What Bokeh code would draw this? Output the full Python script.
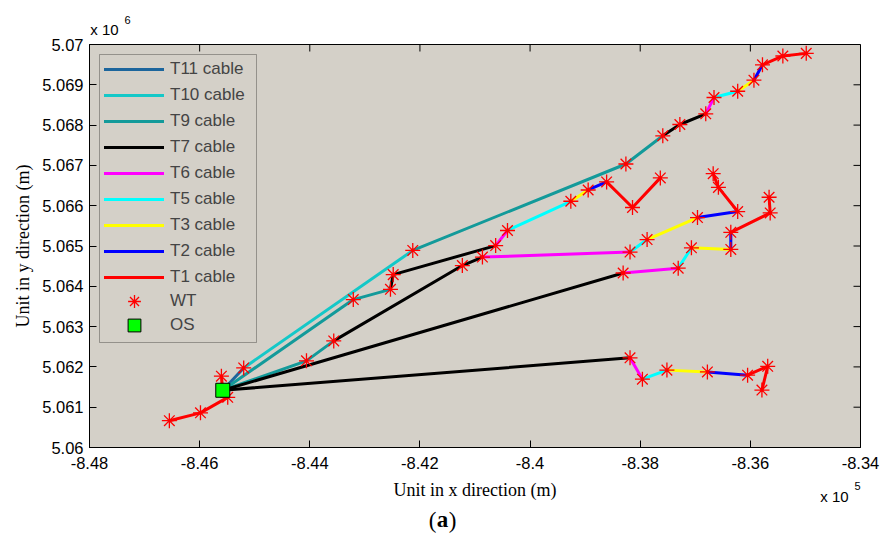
from bokeh.plotting import figure
from bokeh.models import Range1d, FixedTicker, LinearAxis, Legend, LegendItem, BoxAnnotation
from bokeh.embed import file_html
from bokeh.resources import INLINE

# Offshore substation position (m)
os_x = [-845580]
os_y = [5061420]

# Wind turbine positions (m)
wt_x = [
    -845200, -842130, -838260, -837590, -837280, -836810, -836660, -836230, -835935, -835780, -835410, -834985,
    -843210, -842535, -842485, -840625, -840410, -839260, -838945, -838610, -838140, -837635,
    -844060, -843565, -841230, -840865, -838185, -837875, -836960, -836230, -836580, -836675,
    -838310, -837310, -837070, -836355, -836355, -835640, -835660,
    -838185, -837960, -837515, -836780, -836050, -835685, -835790,
    -846550, -845985, -845490, -845605,
]
wt_y = [
    5061975, 5064890, 5067035, 5067735, 5068015, 5068280, 5068685, 5068840, 5069115, 5069495, 5069715, 5069780,
    5063670, 5063925, 5064290, 5065010, 5065385, 5066110, 5066390, 5066590, 5065955, 5066690,
    5062150, 5062645, 5064515, 5064725, 5064850, 5065160, 5065705, 5065855, 5066455, 5066795,
    5064330, 5064450, 5064955, 5064915, 5065340, 5065820, 5066210,
    5062225, 5061695, 5061920, 5061875, 5061795, 5062015, 5061425,
    5060665, 5060860, 5061245, 5061770,
]

# Cable types; node 0 is the substation, node k (k >= 1) is turbine k
cable_names = ["T11 cable", "T10 cable", "T9 cable", "T7 cable", "T6 cable",
               "T5 cable", "T3 cable", "T2 cable", "T1 cable"]
cable_colors = ["#1c659c", "#14c8c8", "#139a9a", "#000000", "#ff00ff",
                "#00ffff", "#ffff00", "#0000ff", "#ff0000"]
cable_links = [
    [(0, 1)],
    [(1, 2)],
    [(2, 3), (3, 4), (0, 13), (13, 14), (0, 23), (23, 24)],
    [(4, 5), (5, 6), (14, 15), (15, 16), (24, 25), (25, 26), (0, 33), (0, 40)],
    [(6, 7), (16, 17), (26, 27), (33, 34), (40, 41)],
    [(7, 8), (17, 18), (27, 28), (34, 35), (41, 42)],
    [(8, 9), (18, 19), (28, 29), (35, 36), (42, 43)],
    [(9, 10), (19, 20), (29, 30), (36, 37), (43, 44)],
    [(10, 11), (11, 12), (20, 21), (21, 22), (30, 31), (31, 32), (37, 38), (38, 39),
     (44, 45), (45, 46), (0, 49), (49, 48), (48, 47), (0, 50)],
]

# Axis ticks and their labels (x in 1e5 m, y in 1e6 m)
x_ticks = [-848000, -846000, -844000, -842000, -840000, -838000, -836000, -834000]
x_tick_labels = ["-8.48", "-8.46", "-8.44", "-8.42", "-8.4", "-8.38", "-8.36", "-8.34"]
y_ticks = [5060000, 5061000, 5062000, 5063000, 5064000, 5065000,
           5066000, 5067000, 5068000, 5069000, 5070000]
y_tick_labels = ["5.06", "5.061", "5.062", "5.063", "5.064", "5.065",
                 "5.066", "5.067", "5.068", "5.069", "5.07"]

node_x = os_x + wt_x
node_y = os_y + wt_y

BG = "#d4d0c8"
SANS = "Liberation Sans"
SERIF = "Liberation Serif"

W, H = 882, 535
BL, BR, BT, BB = 89, 22, 44, 88          # borders around the plot frame
FW, FH = W - BL - BR, H - BT - BB        # frame size in px
TICK_LEN = 7

x0, x1 = x_ticks[0], x_ticks[-1]
y0, y1 = y_ticks[0], y_ticks[-1]


def frame_x(px):
    """Data x at a horizontal pixel offset from the frame's left edge."""
    return x0 + px * (x1 - x0) / FW


p = figure(width=W, height=H, output_backend="svg", toolbar_location=None,
           x_range=Range1d(x0, x1), y_range=Range1d(y0, y1),
           min_border_left=BL, min_border_right=BR, min_border_top=BT, min_border_bottom=BB,
           background_fill_color=BG, border_fill_color="white",
           outline_line_color="black", outline_line_width=1)
p.grid.visible = False

for ax, ticks, labels in ((p.xaxis[0], x_ticks, x_tick_labels), (p.yaxis[0], y_ticks, y_tick_labels)):
    ax.ticker = FixedTicker(ticks=ticks)
    ax.major_label_overrides = {t: s for t, s in zip(ticks, labels)}
    ax.axis_line_color = "black"
    ax.major_tick_line_color = "black"
    ax.major_tick_in = TICK_LEN
    ax.major_tick_out = 0
    ax.minor_tick_line_color = None
    ax.major_label_text_font = SANS
    ax.major_label_text_font_size = "16.5px"
    ax.major_label_text_color = "black"
    ax.axis_label_text_font = SERIF
    ax.axis_label_text_font_style = "normal"
    ax.axis_label_text_font_size = "18px"
    ax.axis_label_text_color = "black"
p.xaxis[0].axis_label = "Unit in x direction (m)"
p.yaxis[0].axis_label = "Unit in y direction (m)"
p.xaxis[0].major_label_standoff = 9
p.yaxis[0].major_label_standoff = 6
p.xaxis[0].axis_label_standoff = 8
p.yaxis[0].axis_label_standoff = 6


def text_axis(place, positions, texts, font, size, standoff, style="normal"):
    """An axis with no line or ticks that only carries a few texts."""
    ax = LinearAxis(ticker=FixedTicker(ticks=positions),
                    major_label_overrides={t: s for t, s in zip(positions, texts)},
                    axis_line_color=None, major_tick_line_color=None, minor_tick_line_color=None,
                    major_tick_in=0, major_tick_out=0, major_label_standoff=standoff,
                    major_label_text_font=font, major_label_text_font_size=size,
                    major_label_text_font_style=style, major_label_text_color="black")
    p.add_layout(ax, place)
    return ax


# Scale multipliers: x 10^6 above the y axis, x 10^5 at the end of the x axis
text_axis("above", [frame_x(15)], ["x 10"], SANS, "15px", 7)
text_axis("above", [frame_x(38)], ["6"], SANS, "11px", -6)
text_axis("below", [frame_x(FW - 26)], ["x 10"], SANS, "15px", -15)
text_axis("below", [frame_x(FW - 3)], ["5"], SANS, "11px", -26)
# Panel tag "(a)" with a bold letter
text_axis("below", [frame_x(343), frame_x(363)], ["(", ")"], SERIF, "23px", 0)
text_axis("below", [frame_x(353)], ["a"], SERIF, "23px", -29, "bold")

# Inward ticks on the top and right edges of the box
dy = TICK_LEN * (y1 - y0) / FH
dx = TICK_LEN * (x1 - x0) / FW
p.segment(x0=x_ticks, y0=[y1] * len(x_ticks), x1=x_ticks, y1=[y1 - dy] * len(x_ticks),
          line_color="black", line_width=1)
p.segment(x0=[x1] * len(y_ticks), y0=y_ticks, x1=[x1 - dx] * len(y_ticks), y1=y_ticks,
          line_color="black", line_width=1)

# Cable routes
cable_items = []
for name, color, links in zip(cable_names, cable_colors, cable_links):
    xs = [[node_x[a], node_x[b]] for a, b in links]
    ys = [[node_y[a], node_y[b]] for a, b in links]
    r = p.multi_line(xs, ys, line_color=color, line_width=3, line_cap="round", line_join="round")
    cable_items.append(LegendItem(label=name, renderers=[r]))

# Turbines and substation
r_wt = p.scatter(wt_x, wt_y, marker="asterisk", size=15, line_color="#ff0000", line_width=1.3)
r_os = p.scatter(os_x, os_y, marker="square", size=14, fill_color="#00ff00",
                 line_color="black", line_width=1)

legend_style = dict(glyph_width=60, label_standoff=6, label_text_font=SANS,
                    label_text_font_size="17px", background_fill_alpha=0,
                    border_line_color=None, padding=0)
p.add_layout(Legend(items=cable_items, location="top_left", margin=15, spacing=6,
                    glyph_height=20, label_height=20, **legend_style))
# Point symbols get their own taller rows so that their markers are drawn larger
p.add_layout(Legend(items=[LegendItem(label="WT", renderers=[r_wt])], location=(15, 130),
                    margin=0, glyph_height=32, label_height=32, **legend_style))
p.add_layout(Legend(items=[LegendItem(label="OS", renderers=[r_os])], location=(15, 106),
                    margin=0, glyph_height=32, label_height=32, **legend_style))
# Frame around all legend entries
p.add_layout(BoxAnnotation(left=10, right=167, top=FH - 10, bottom=105,
                           left_units="screen", right_units="screen",
                           top_units="screen", bottom_units="screen",
                           fill_color=None, line_color="black", line_width=1))

open("out.html", "w").write(file_html(p, INLINE))
